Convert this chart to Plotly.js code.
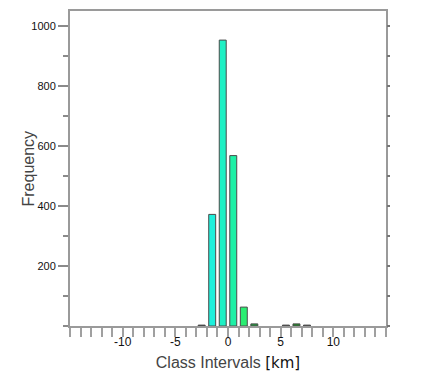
<!DOCTYPE html>
<html>
<head>
<meta charset="utf-8">
<script src="https://cdn.plot.ly/plotly-3.0.1.min.js"></script>
<style>html,body{margin:0;padding:0;background:#fff;}#chart{width:448px;height:372px;}</style>
</head>
<body>
<div id="chart"></div>
<script>
// Histogram bin centers (km) and counts
const binCenters = [-2.5, -1.5, -0.5, 0.5, 1.5, 2.5, 5.5, 6.5, 7.5];
const frequency  = [3, 372, 953, 568, 63, 7, 3, 7, 3];
const barColors  = ['#3a3a3a', '#1ef0dc', '#1ef0c4', '#1ef0a6', '#2aee72', '#1f9e3c', '#555555', '#1f8a26', '#555555'];

const xTickVals = [];
const xTickText = [];
for (let v = -15; v <= 15; v++) {
  xTickVals.push(v);
  xTickText.push((v % 5 === 0 && Math.abs(v) <= 10) ? String(v) : '');
}
const yTickVals = [200, 400, 600, 800, 1000];
const yTickText = ['200', '400', '600', '800', '1000'];
const yRightTicks = [0, 100, 200, 300, 400, 500, 600, 700, 800, 900, 1000];

const trace = {
  type: 'bar',
  x: binCenters,
  y: frequency,
  width: 0.66,
  marker: {color: barColors, line: {color: '#4a4a4a', width: 1}},
  hoverinfo: 'skip'
};

const layout = {
  width: 448, height: 372,
  margin: {l: 70, r: 62, t: 11, b: 46},
  paper_bgcolor: '#ffffff', plot_bgcolor: '#ffffff',
  showlegend: false,
  bargap: 0,
  xaxis: {
    range: [-15, 15],
    tickmode: 'array', tickvals: xTickVals, ticktext: xTickText,
    ticks: 'outside', ticklen: 9, tickwidth: 2, tickcolor: '#a0a0a0',
    ticklabelstandoff: -5,
    showline: true, linecolor: '#9a9a9a', linewidth: 2, mirror: true,
    showgrid: false, zeroline: false,
    tickfont: {family: 'Liberation Sans, Arial, sans-serif', size: 12, color: '#111'},
    title: {
      text: 'Class Intervals <span style="font-family:DejaVu Sans;color:#111;font-size:15px">[km]</span>',
      font: {family: 'Liberation Sans, Arial, sans-serif', size: 16, color: '#444'},
      standoff: 9
    }
  },
  yaxis: {
    range: [0, 1050],
    tickmode: 'array', tickvals: yTickVals, ticktext: yTickText,
    ticks: 'outside', ticklen: 10, tickwidth: 2, tickcolor: '#8a8a8a',
    minor: {dtick: 100, tick0: 0, ticks: 'outside', ticklen: 5, tickwidth: 2, tickcolor: '#8a8a8a'},
    showline: true, linecolor: '#9a9a9a', linewidth: 2, mirror: true,
    showgrid: false, zeroline: false,
    tickfont: {family: 'Liberation Sans, Arial, sans-serif', size: 11, color: '#111'}
  },
  yaxis2: {
    overlaying: 'y', side: 'right', range: [0, 1050],
    tickmode: 'array', tickvals: yRightTicks, showticklabels: false,
    ticks: 'outside', ticklen: 3, tickwidth: 2, tickcolor: '#777',
    showline: false, showgrid: false, zeroline: false
  },
  annotations: [{
    text: 'Frequency', textangle: -90,
    xref: 'paper', yref: 'paper', x: 0, y: 0.5,
    xanchor: 'center', yanchor: 'middle', xshift: -42,
    showarrow: false,
    font: {family: 'Liberation Sans, Arial, sans-serif', size: 16, color: '#444'}
  }]
};

Plotly.newPlot('chart', [trace, {type: 'scatter', x: [], y: [], yaxis: 'y2', hoverinfo: 'skip'}], layout, {displayModeBar: false, staticPlot: true});
</script>
</body>
</html>
